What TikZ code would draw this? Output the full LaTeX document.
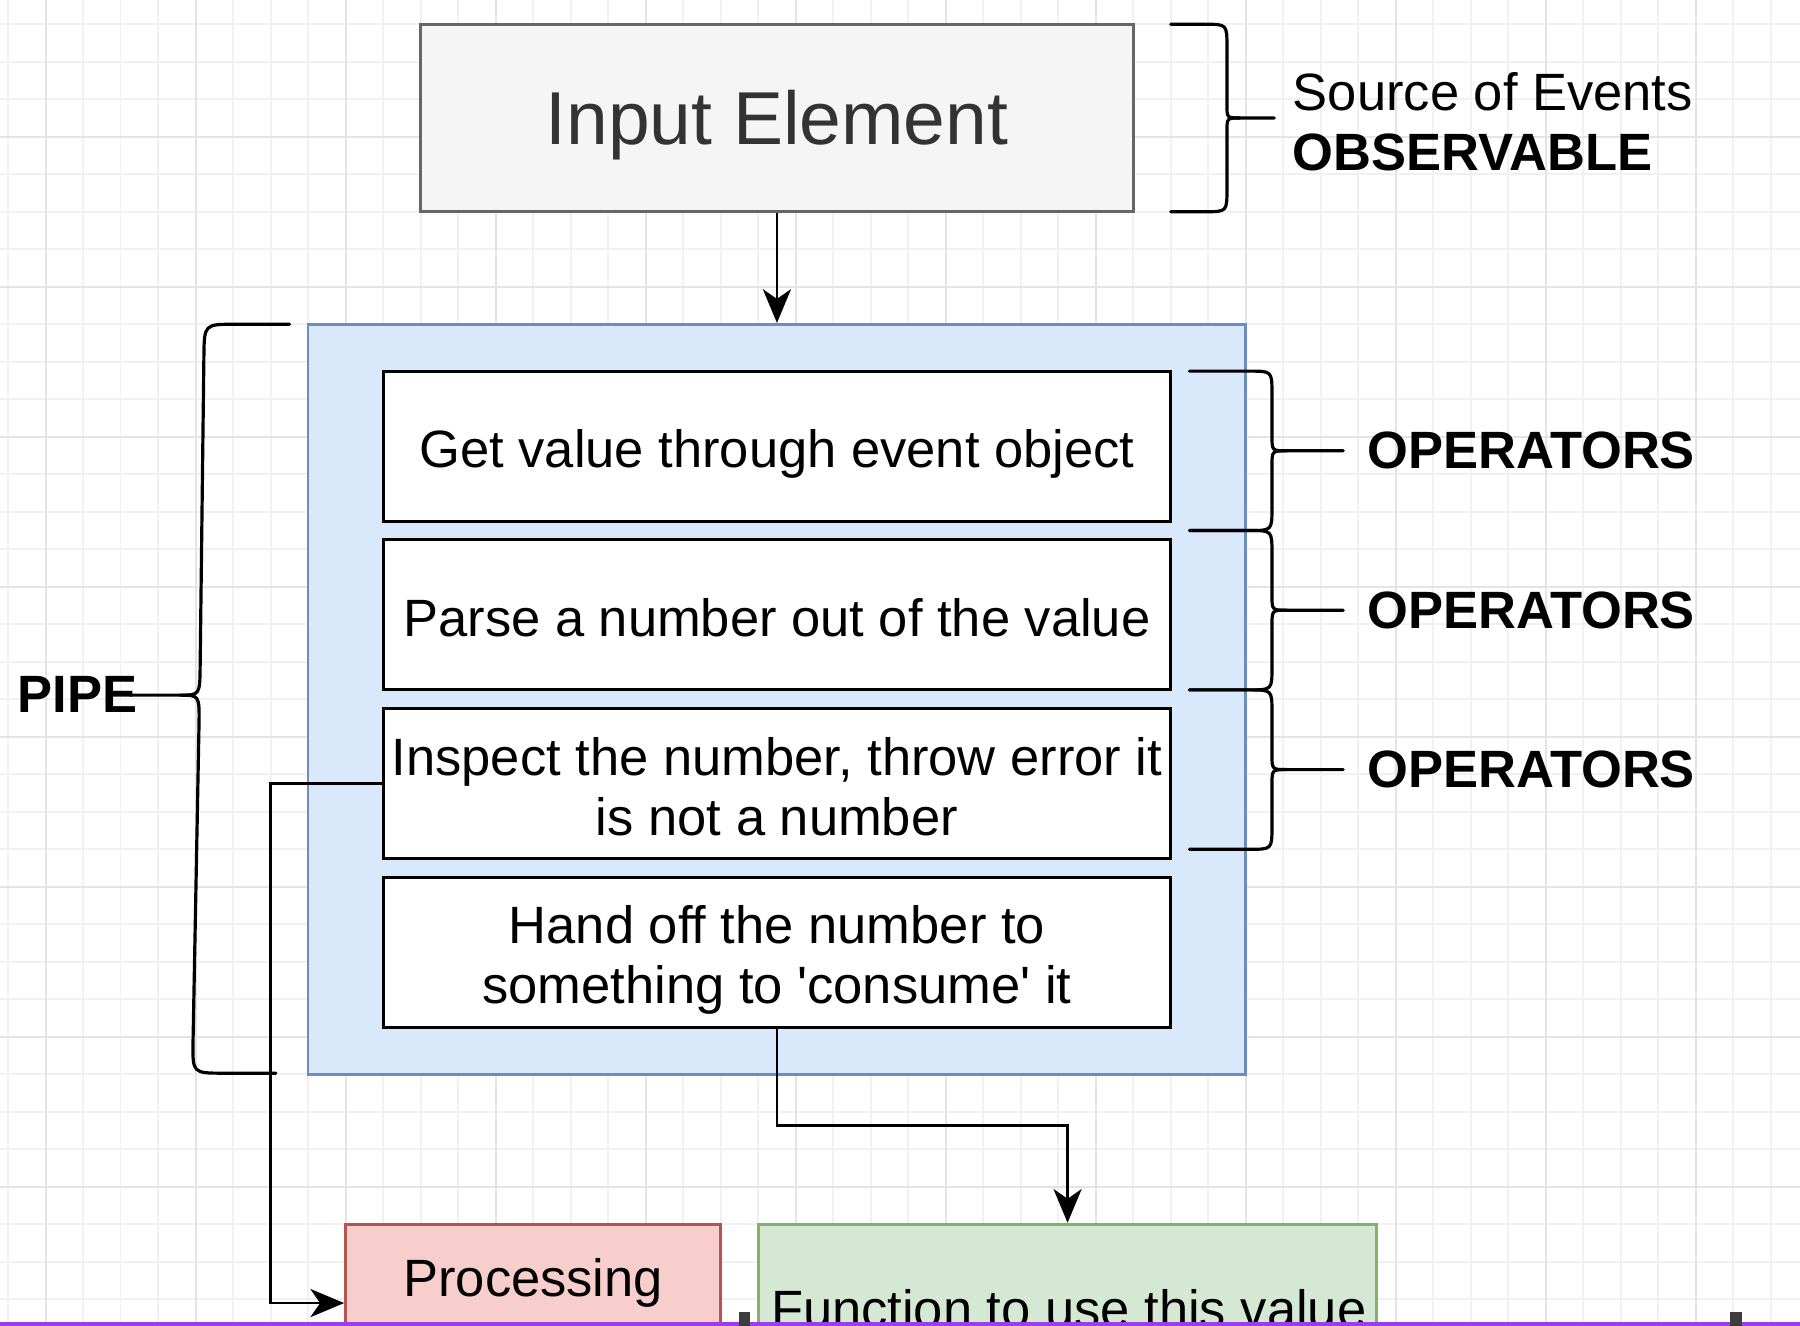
\documentclass[tikz,border=0pt]{standalone}
\usepackage{fontspec}
\setmainfont{Liberation Sans}
\usetikzlibrary{arrows.meta}
\definecolor{gridmin}{HTML}{F1F1F1}
\definecolor{gridmaj}{HTML}{E4E4E4}
\definecolor{inpfill}{HTML}{F5F5F5}
\definecolor{inpdraw}{HTML}{666666}
\definecolor{inptext}{HTML}{333333}
\definecolor{bluefill}{HTML}{DAE8FC}
\definecolor{bluedraw}{HTML}{6C8EBF}
\definecolor{redfill}{HTML}{F8CECC}
\definecolor{reddraw}{HTML}{B85450}
\definecolor{greenfill}{HTML}{D5E8D4}
\definecolor{greendraw}{HTML}{82B366}
\definecolor{barpurple}{HTML}{9B3EE6}
\definecolor{bardark}{HTML}{3C3C3C}
\newcommand\myrbrace[7]{%
  \draw[brace] (#1,#4) -- ({#2-#6},#4) .. controls (#2,#4) .. (#2,{#4+#6})
    -- (#2,{(#4+#5)/2-#7}) .. controls (#2,{(#4+#5)/2}) .. ({#2+#7},{(#4+#5)/2})
    -- (#3,{(#4+#5)/2});
  \draw[brace] ({#2+#7},{(#4+#5)/2}) .. controls (#2,{(#4+#5)/2}) .. (#2,{(#4+#5)/2+#7})
    -- (#2,{#5-#6}) .. controls (#2,#5) .. ({#2-#6},#5) -- (#1,#5);
}
\begin{document}
\begin{tikzpicture}[x=1pt,y=-1pt,
  gridminor/.style={draw=gridmin, line width=0.45pt},
  gridmajor/.style={draw=gridmaj, line width=0.6pt},
  opbox/.style={draw=black, fill=white, line width=0.85pt, inner sep=0pt,
    minimum width=210pt, minimum height=40pt},
  brace/.style={draw=black, line width=0.85pt, line cap=round},
  conn/.style={draw=black, line width=0.75pt},
  arr/.style={conn, -{Stealth[length=9pt,width=7.5pt,inset=2.6pt]}},
  txt/.style={font=\fontsize{14}{16}\selectfont, inner sep=0pt, anchor=base},
  lbl/.style={txt, anchor=base west},
  blbl/.style={lbl, font=\fontsize{14}{16}\selectfont\bfseries}
]
\useasboundingbox (-2.17,-6.46) rectangle (477.8,347.1);
\clip (-2.17,-6.46) rectangle (477.8,347.1);
\fill[white] (-2.17,-6.46) rectangle (477.8,347.1);
% grid
\foreach \x in {0,10,...,470} \draw[gridminor] (\x,-7) -- (\x,348);
\foreach \y in {0,10,...,340} \draw[gridminor] (-3,\y) -- (478,\y);
\foreach \x in {10,50,...,450} \draw[gridmajor] (\x,-7) -- (\x,348);
\foreach \y in {30,70,...,310} \draw[gridmajor] (-3,\y) -- (478,\y);

% input element
\node[draw=inpdraw, fill=inpfill, line width=0.8pt, inner sep=0pt,
  minimum width=190pt, minimum height=50pt] (inp) at (205,25) {};
\node[txt, font=\fontsize{20}{24}\selectfont, text=inptext] (inptxt) at (205,32) {Input Element};

% pipe container
\node[draw=bluedraw, fill=bluefill, line width=0.7pt, inner sep=0pt,
  minimum width=250pt, minimum height=200pt] (pipe) at (205,180) {};

% operator boxes
\node[opbox] (b1) at (205,112.5) {};
\node[opbox] (b2) at (205,157.5) {};
\node[opbox] (b3) at (205,202.5) {};
\node[opbox] (b4) at (205,247.5) {};
\node[txt] (t1) at (205,118.3) {Get value through event object};
\node[txt] (t2) at (205,163.3) {Parse a number out of the value};
\node[txt] (t3a) at (205,200.4) {Inspect the number, throw error it};
\node[txt] (t3b) at (205,216.2) {is not a number};
\node[txt] (t4a) at (205,245.0) {Hand off the number to};
\node[txt] (t4b) at (205,261.0) {something to \textquotesingle consume\textquotesingle\ it};

% braces
\myrbrace{310}{325}{337.6}{0}{50}{6}{3.5}
\myrbrace{315}{337}{356}{92.5}{135}{6}{4}
\myrbrace{315}{337}{356}{135}{177.5}{6}{4}
\myrbrace{315}{337}{356}{177.5}{220}{6}{4}
% left (PIPE) brace, slightly tilted
\draw[brace] (75,80) -- (60.5,80) .. controls (52.3,80) .. (52.2,88.5)
  -- (51.2,171.2) .. controls (51.1,178.9) .. (45.8,178.9) -- (32.5,178.9);
\draw[brace] (45.8,178.9) .. controls (51.0,178.9) .. (50.9,186.6)
  -- (49.3,271.5) .. controls (49.2,279.7) .. (57.5,279.7) -- (71.4,279.7);

% labels
\node[lbl] (src) at (342.4,22.9) {Source of Events};
\node[blbl] (obs) at (342.4,38.9) {OBSERVABLE};
\node[blbl] (op1) at (362.2,118.5) {OPERATORS};
\node[blbl] (op2) at (362.2,161.0) {OPERATORS};
\node[blbl] (op3) at (362.2,203.5) {OPERATORS};
\node[blbl] (pipelbl) at (2.4,183.4) {PIPE};

% bottom boxes
\node[draw=reddraw, fill=redfill, line width=0.8pt, inner sep=0pt,
  minimum width=100pt, minimum height=42pt] (proc) at (140,341) {};
\node[draw=greendraw, fill=greenfill, line width=0.8pt, inner sep=0pt,
  minimum width=165pt, minimum height=42pt] (fn) at (282.5,341) {};
\node[txt] (proctxt) at (140,339.3) {Processing};
\node[txt] (fntxt) at (282.8,347.5) {Function to use this value};

% connectors
\draw[arr] (inp.south) -- (pipe.north);
\coordinate (errbend) at (70,202.5);
\draw[arr] (b3.west) -- (errbend) |- (proc.west);
\coordinate (okbend) at (205,293.75);
\draw[arr] (b4.south) -- (okbend) -| (fn.north);

% bottom bar
\fill[barpurple] (-3,346.0) rectangle (478,348);
\fill[bardark] (194.9,343.4) rectangle (197.8,348);
\fill[bardark] (459.1,343.4) rectangle (462.3,348);
\end{tikzpicture}
\end{document}
